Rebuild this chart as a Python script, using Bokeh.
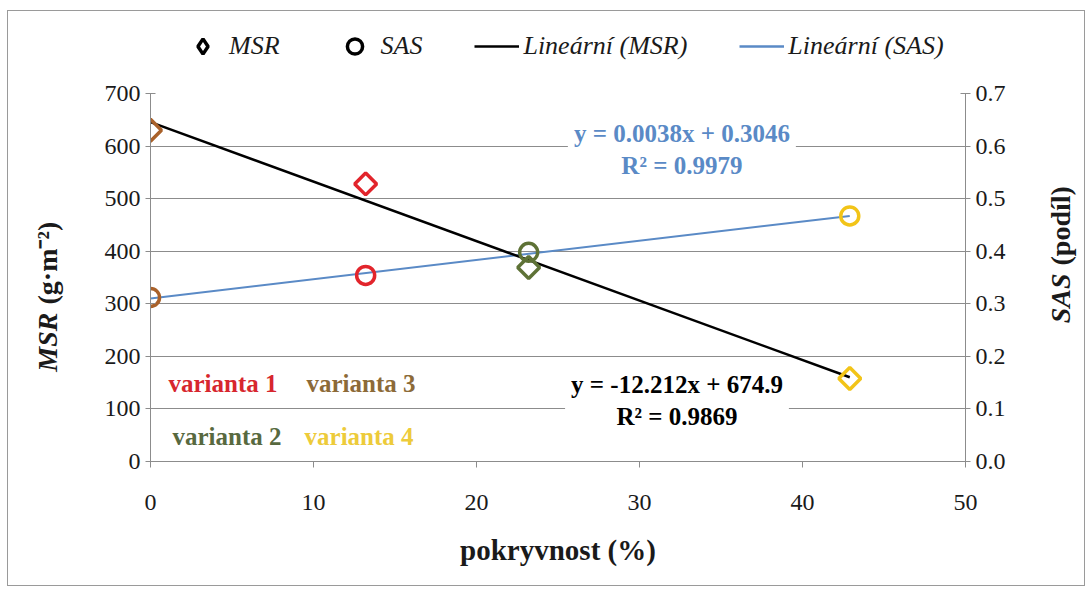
import numpy as np
from bokeh.plotting import figure
from bokeh.layouts import column, row
from bokeh.models import (Range1d, LinearAxis, FixedTicker, Legend, LegendItem,
                          Label, ColumnDataSource, PrintfTickFormatter)
from bokeh.core.properties import value
from bokeh.embed import file_html
from bokeh.resources import INLINE

# ---------------- data ----------------
variants = ["varianta 1", "varianta 2", "varianta 3", "varianta 4"]
pokryvnost = [13.2, 23.2, 0.0, 42.9]          # x (%)
msr = [528, 369, 630, 158]                     # MSR (g·m-2)
sas = [0.354, 0.398, 0.312, 0.467]             # SAS (podíl)
marker_colors = ["#E2252C", "#5E7236", "#A9612A", "#F2C418"]
label_colors = ["#D7262E", "#58693F", "#8C6A38", "#EDCB3A"]

x_ticks = [0, 10, 20, 30, 40, 50]
msr_ticks = [0, 100, 200, 300, 400, 500, 600, 700]
sas_ticks = [0.0, 0.1, 0.2, 0.3, 0.4, 0.5, 0.6, 0.7]

eq_msr = "y = -12.212x + 674.9\nR² = 0.9869"
eq_sas = "y = 0.0038x + 0.3046\nR² = 0.9979"

legend_labels = ["MSR", "SAS", "Lineární (MSR)", "Lineární (SAS)"]
x_title = "pokryvnost (%)"
y_title = ["MSR", "(g·m⁻²)"]
y2_title = ["SAS", "(podíl)"]

FONT = "Liberation Serif"
GRID = "#8C8C8C"
BLUE = "#5A8AC6"
TXT = "#1a1a1a"

H_TOP, H_MAIN = 67, 507
W_L, W_MAIN, W_R = 67, 965, 44

# ---------------- main figure ----------------
p = figure(width=W_MAIN, height=H_MAIN, output_backend="svg", toolbar_location=None,
           x_range=Range1d(0, 50), y_range=Range1d(0, 700),
           min_border_left=75, min_border_right=75, min_border_top=15,
           min_border_bottom=124, background_fill_color="white",
           border_fill_color="white", outline_line_color=None)
p.extra_y_ranges = {"sas": Range1d(0, 0.7)}

p.xgrid.grid_line_color = None
p.ygrid.grid_line_color = GRID
p.ygrid.ticker = FixedTicker(ticks=msr_ticks)

p.xaxis.ticker = FixedTicker(ticks=x_ticks)
p.yaxis.ticker = FixedTicker(ticks=msr_ticks)
for ax in (p.xaxis[0], p.yaxis[0]):
    ax.axis_line_color = GRID
    ax.major_tick_line_color = GRID
    ax.minor_tick_line_color = None
    ax.major_label_text_font = FONT
    ax.major_label_text_font_size = "24px"
    ax.major_label_text_color = TXT
p.xaxis.major_tick_in = 0
p.xaxis.major_tick_out = 6
p.xaxis.major_label_standoff = 27
p.yaxis.major_tick_in = 5
p.yaxis.major_tick_out = 5
p.yaxis.major_label_standoff = 5

rax = LinearAxis(y_range_name="sas", ticker=FixedTicker(ticks=sas_ticks),
                 formatter=PrintfTickFormatter(format="%.1f"))
rax.axis_line_color = GRID
rax.major_tick_line_color = GRID
rax.minor_tick_line_color = None
rax.major_tick_in = 5
rax.major_tick_out = 5
rax.major_label_standoff = 5
rax.major_label_text_font = FONT
rax.major_label_text_font_size = "24px"
rax.major_label_text_color = TXT
p.add_layout(rax, "right")

p.xaxis.axis_label = x_title
p.xaxis.axis_label_text_font = FONT
p.xaxis.axis_label_text_font_style = "bold"
p.xaxis.axis_label_text_font_size = "29px"
p.xaxis.axis_label_text_color = TXT
p.xaxis.axis_label_standoff = 21

# ---------------- trend lines ----------------
xs = np.array(pokryvnost, dtype=float)
k_msr, q_msr = np.polyfit(xs, np.array(msr, dtype=float), 1)
k_sas, q_sas = np.polyfit(xs, np.array(sas, dtype=float), 1)
xl = np.array([xs.min(), xs.max()])

p.line(xl, k_sas * xl + q_sas, y_range_name="sas", line_color=BLUE, line_width=2)
p.line(xl, k_msr * xl + q_msr, line_color="black", line_width=2.5)

# ---------------- points ----------------
src = ColumnDataSource(dict(x=pokryvnost, msr=msr, sas=sas, c=marker_colors))
p.scatter("x", "sas", source=src, y_range_name="sas", marker="circle", size=18,
          fill_alpha=0, line_color="c", line_width=3.5)
p.scatter("x", "msr", source=src, marker="square", angle=np.pi / 4, size=15.5,
          fill_alpha=0, line_color="c", line_width=3.5)

# ---------------- equations ----------------
p.add_layout(Label(x=32.6, y=594, text=eq_sas, text_align="center", text_baseline="middle",
                   text_font=FONT, text_font_style="bold", text_font_size="25px",
                   text_color=BLUE, background_fill_color="white", padding=6))
p.add_layout(Label(x=32.3, y=116, text=eq_msr, text_align="center", text_baseline="middle",
                   text_font=FONT, text_font_style="bold", text_font_size="25px",
                   text_color="black", background_fill_color="white", padding=6))

# ---------------- variant labels ----------------
p.text(x=[1.1, 1.35, 9.57, 9.45], y=[148, 47.6, 148, 47.6], text=variants,
       text_color=label_colors, text_font=value(FONT), text_font_style="bold",
       text_font_size="25px", text_align="left", text_baseline="middle")

# ---------------- legend strip ----------------
lf = figure(frame_width=W_L + W_MAIN + W_R, frame_height=H_TOP, output_backend="svg",
            toolbar_location=None, x_range=Range1d(0, 1), y_range=Range1d(0, 1),
            x_axis_type=None, y_axis_type=None, title=None,
            min_border=0, outline_line_color=None, background_fill_color="white",
            border_fill_color="white")
# legend proxies, placed outside the visible range
lg_d = lf.scatter([5], [5], marker="diamond", size=16, fill_alpha=0,
                  line_color="black", line_width=3.5)
lg_c = lf.scatter([5], [5], marker="circle", size=13, fill_alpha=0, line_color="black",
                  line_width=3.5)
lg_l1 = lf.line([5, 6], [5, 5], line_color="black", line_width=2.5)
lg_l2 = lf.line([5, 6], [5, 5], line_color=BLUE, line_width=2.5)
legend = Legend(items=[LegendItem(label=legend_labels[0], renderers=[lg_d]),
                       LegendItem(label=legend_labels[1], renderers=[lg_c]),
                       LegendItem(label=legend_labels[2], renderers=[lg_l1]),
                       LegendItem(label=legend_labels[3], renderers=[lg_l2])],
                orientation="horizontal", location=(172, 13),
                label_text_font=FONT, label_text_font_style="italic",
                label_text_font_size="26px", label_text_color=TXT,
                border_line_color=None, background_fill_alpha=0,
                glyph_width=45, glyph_height=38, label_standoff=4, spacing=52,
                padding=0, margin=0)
lf.add_layout(legend)

# ---------------- side titles ----------------
def side_fig(width, pieces, x_center, join):
    f = figure(frame_width=width, frame_height=H_MAIN, output_backend="svg",
               toolbar_location=None, x_range=Range1d(0, width), y_range=Range1d(0, H_MAIN),
               x_axis_type=None, y_axis_type=None, title=None, min_border=0,
               outline_line_color=None, background_fill_color="white",
               border_fill_color="white")
    f.text(x=[x_center], y=[join - 4], text=[pieces[0]], angle=np.pi / 2, text_align="right",
           text_baseline="middle", text_font=value(FONT), text_font_style="bold italic",
           text_font_size="28px", text_color=TXT)
    f.text(x=[x_center], y=[join + 4], text=[pieces[1]], angle=np.pi / 2, text_align="left",
           text_baseline="middle", text_font=value(FONT), text_font_style="bold",
           text_font_size="28px", text_color=TXT)
    return f

left = side_fig(W_L, y_title, 39, 292)
right = side_fig(W_R, y2_title, 20, 331)

layout = column(lf, row(left, p, right), margin=(10, 0, 0, 7),
                styles={"border": "1px solid #9a9a9a"})

open("out.html", "w").write(file_html(layout, INLINE))
